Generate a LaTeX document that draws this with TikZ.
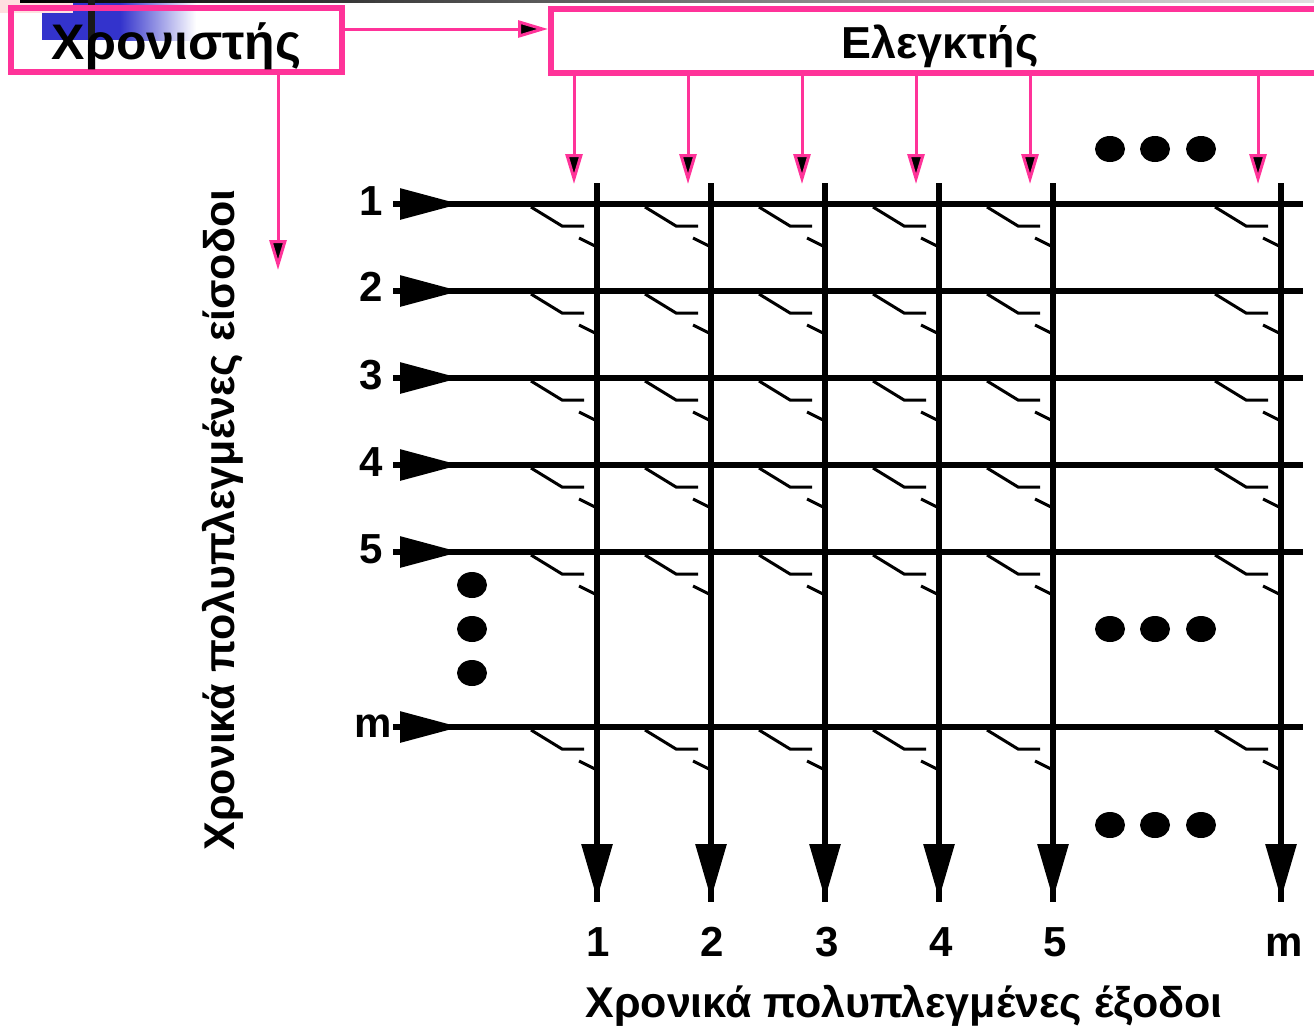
\documentclass[tikz,border=0pt]{standalone}
\usepackage{fontspec}
\setmainfont{Liberation Sans}
\usetikzlibrary{arrows.meta,shapes.geometric}
\definecolor{pinkline}{HTML}{FF3399}
\definecolor{barblue}{HTML}{3333CC}
\tikzset{
  wire/.style={line width=6bp,black},
  swline/.style={line width=3bp,black},
  feed/.style={line width=3bp,pinkline,-{Triangle[length=30bp,width=17bp,fill=black]}},
  headh/.style={line width=6bp,black,-{Triangle[length=60bp,width=30bp,fill=black]}},
  headv/.style={line width=6bp,black,-{Triangle[length=55bp,width=30bp,fill=black]}},
  dot/.style={ellipse,fill=black,minimum width=30bp,minimum height=26bp,inner sep=0pt},
  pinkbox/.style={draw=pinkline,line width=6bp,inner sep=0pt,anchor=center},
  numlabel/.style={font=\bfseries\fontsize{42bp}{42bp}\selectfont,inner sep=0pt},
  title/.style={font=\bfseries\fontsize{43bp}{43bp}\selectfont,inner sep=0pt},
}
\begin{document}
\begin{tikzpicture}[x=1bp,y=-1bp]
\useasboundingbox (0,0) rectangle (1314,1025);
% background remnants
\fill[barblue] (42,0) rectangle (120,40);
\shade[left color=barblue,right color=white] (120,0) rectangle (196,40);
\fill[red!12!white] (0,0) rectangle (73,13);
\shade[left color=black,right color=black!12] (20,0) rectangle (1314,2);
\fill[black!90] (88,0) rectangle (95,68);
% boxes
\node[pinkbox,minimum width=331bp,minimum height=64bp] (timer) at (176.5,40) {};
\node[pinkbox,minimum width=778bp,minimum height=64bp] (ctrl) at (940,41) {};
\node[inner sep=0pt,font=\bfseries\fontsize{50bp}{50bp}\selectfont] (timertext) at (176.5,46) {Χρονιστής};
\node[inner sep=0pt,font=\bfseries\fontsize{44.8bp}{44.8bp}\selectfont] (ctrltext) at (940,46) {Ελεγκτής};
% timer connectors
\coordinate (ty) at (0,29);
\coordinate (tx) at (278,0);
\coordinate (tend) at (278,270);
\draw[feed] (timer.east |- ty) -- (ctrl.west |- ty);
\draw[feed] (timer.south -| tx) -- (tend);
% horizontal lines
\foreach \n/\y in {1/204,2/291,3/378,4/465,5/552,6/727}{
  \coordinate (hs\n) at (393,\y);
  \coordinate (ht\n) at (460,\y);
  \coordinate (he\n) at (1303,\y);
  \draw[wire] (hs\n) -- (he\n);
  \draw[headh] (hs\n) -- (ht\n);
}
% vertical lines and control feeds
\foreach \k/\x/\f in {1/597/574,2/711/688,3/825/802,4/939/916,5/1053/1030,6/1281/1258}{
  \coordinate (vs\k) at (\x,183);
  \coordinate (vt\k) at (\x,899);
  \coordinate (ve\k) at (\x,902);
  \coordinate (fx\k) at (\f,0);
  \coordinate (fe\k) at (\f,184);
  \draw[wire] (vs\k) -- (ve\k);
  \draw[headv] (vs\k) -- (vt\k);
  \draw[feed] (ctrl.south -| fx\k) -- (fe\k);
  \foreach \y in {204,291,378,465,552,727}{
    \draw[swline] ([shift={(-66,3)}]\x,\y) -- ++(31,19) -- ++(22,0);
    \draw[swline] ([shift={(-18,34)}]\x,\y) -- ++(16,8);
  }
}
% dots
\foreach \y [count=\i] in {149,629,825}{
  \foreach \x [count=\j] in {1110,1155,1201}{
    \node[dot] (d\i\j) at (\x,\y) {};
  }
}
\foreach \y [count=\i] in {585,629,673}{
  \node[dot] (v\i) at (472,\y) {};
}
% input labels
\foreach \t/\x/\y [count=\i] in {1/371/201,2/371/287,3/371/375,4/371/462,5/371/549,m/373/726}{
  \node[numlabel] (in\i) at (\x,\y) {\t};
}
% output labels
\foreach \t/\x/\y [count=\i] in {1/598/942,2/712/942,3/827/942,4/941/942,5/1055/942,m/1284/945}{
  \node[numlabel] (out\i) at (\x,\y) {\t};
}
\node[title,rotate=90] (inlabel) at (223,520) {Χρονικά πολυπλεγμένες είσοδοι};
\node[title] (outlabel) at (904,1006) {Χρονικά πολυπλεγμένες έξοδοι};
\end{tikzpicture}
\end{document}
